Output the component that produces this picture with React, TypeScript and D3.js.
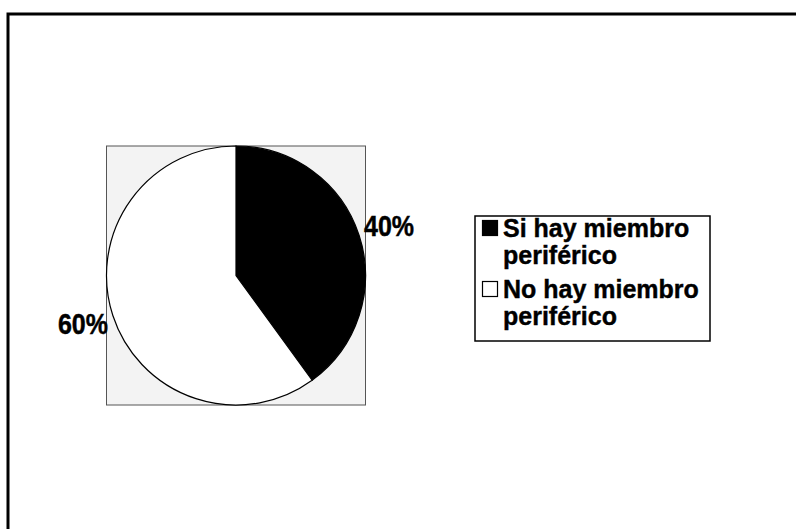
import React from "react";
import * as d3 from "d3";

const categories = ["Si hay miembro periférico", "No hay miembro periférico"];
const values = [40, 60];
const legendLines = [["Si hay miembro", "periférico"], ["No hay miembro", "periférico"]];
const colors = ["#000000", "#ffffff"];

export default function App() {
  const W = 796, H = 529;
  const cx = 236, cy = 275.5, r = 129.5;
  const pie = d3.pie<number>().sort(null).value((d) => d)(values);
  const arc = d3.arc<d3.PieArcDatum<number>>().innerRadius(0).outerRadius(r);
  const font = "'Liberation Sans', Arial, Helvetica, sans-serif";
  const labelPos = [
    { x: 364, y: 236, anchor: "start" },
    { x: 108, y: 334, anchor: "end" },
  ];
  return (
    <svg width={W} height={H} style={{ position: "absolute", left: 0, top: 0, background: "#fff" }}>
      <rect x={0} y={0} width={W} height={H} fill="#fff" />
      {/* outer frame */}
      <path d={`M8,529 L8,14 L796,14`} fill="none" stroke="#000" strokeWidth={3} />
      {/* plot area */}
      <rect x={cx - r} y={cy - r} width={2 * r} height={2 * r} fill="#f3f3f3" stroke="#555" strokeWidth={1} />
      <g transform={`translate(${cx},${cy})`}>
        {pie.map((p, i) => (
          <path key={categories[i]} d={arc(p) || ""} fill={colors[i]} stroke="#000" strokeWidth={1.2} />
        ))}
      </g>
      {pie.map((p, i) => (
        <text key={"l" + i} transform={`translate(${labelPos[i].x},${labelPos[i].y}) scale(1,1.15)`}
          textAnchor={labelPos[i].anchor as any}
          fontFamily={font} fontWeight="bold" fontSize={25} fill="#000" stroke="#000" strokeWidth={0.4}>
          {`${values[i]}%`}
        </text>
      ))}
      {/* legend */}
      <rect x={475} y={216} width={235} height={125} fill="#fff" stroke="#000" strokeWidth={1.5} />
      {legendLines.map((lines, i) => {
        const base = 237 + i * 61;
        return (
          <g key={"lg" + i}>
            <rect x={482.5} y={base - 16.5} width={15} height={15} fill={colors[i]} stroke="#000" strokeWidth={1.2} />
            {lines.map((t, j) => (
              <text key={j} x={503} y={base + j * 27}
                fontFamily={font} fontWeight="bold" fontSize={25} fill="#000" stroke="#000" strokeWidth={0.4}>
                {t}
              </text>
            ))}
          </g>
        );
      })}
    </svg>
  );
}
